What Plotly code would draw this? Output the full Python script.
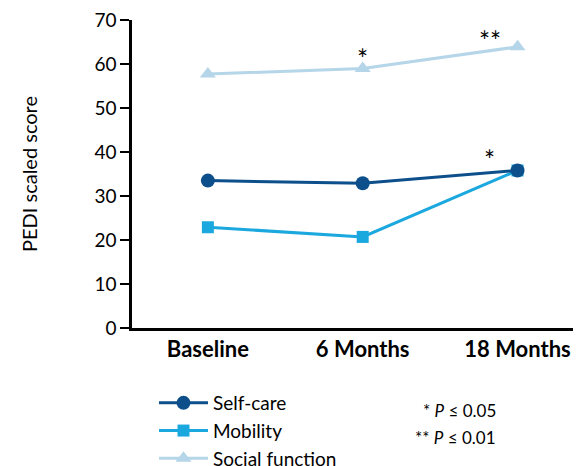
import plotly.graph_objects as go

categories = ["Baseline", "6 Months", "18 Months"]
self_care = [33.5, 32.9, 35.8]
mobility = [22.9, 20.7, 35.8]
social_function = [57.7, 59.0, 63.9]
y_ticks = [0, 10, 20, 30, 40, 50, 60, 70]

FONT = "Lato"
fig = go.Figure()
x_idx = [0, 1, 2]
fig.add_trace(go.Scatter(x=x_idx, y=social_function, name="Social function", mode="lines+markers",
                         line=dict(color="#b5d5e8", width=3),
                         marker=dict(symbol="triangle-up", size=14, color="#b5d5e8")))
fig.add_trace(go.Scatter(x=x_idx, y=mobility, name="Mobility", mode="lines+markers",
                         line=dict(color="#1ba8de", width=3),
                         marker=dict(symbol="square", size=12, color="#1ba8de")))
fig.add_trace(go.Scatter(x=x_idx, y=self_care, name="Self-care", mode="lines+markers",
                         line=dict(color="#0d4f8b", width=3),
                         marker=dict(symbol="circle", size=14, color="#0d4f8b")))

ann = [
    dict(x=1, y=61.1, text="*"),
    dict(x=1.82, y=65.2, text="**"),
    dict(x=1.82, y=38.2, text="*"),
]
for a in ann:
    fig.add_annotation(x=a["x"], y=a["y"], text=a["text"], showarrow=False,
                       font=dict(size=26, color="black", family=FONT), xref="x", yref="y")

# screen-pixel helpers (plot area spans x 132..581, y 20..328 on screen)
def px(xp):
    return (xp - 132) / 449

def py(yp):
    return (328 - yp) / 308

fig.add_annotation(x=px(498), y=py(410), xref="paper", yref="paper", showarrow=False,
                   text="* <i>P</i> ≤ 0.05", font=dict(size=17, color="black", family=FONT),
                   xanchor="right", yanchor="middle")
fig.add_annotation(x=px(498), y=py(437), xref="paper", yref="paper", showarrow=False,
                   text="** <i>P</i> ≤ 0.01", font=dict(size=17, color="black", family=FONT),
                   xanchor="right", yanchor="middle")

fig.update_layout(
    width=581, height=466,
    margin=dict(l=124, r=8, t=12, b=146, autoexpand=False),
    plot_bgcolor="white", paper_bgcolor="white",
    font=dict(family=FONT, color="black"),
    showlegend=True,
    legend=dict(x=px(154), y=py(384), xanchor="left", yanchor="top",
                traceorder="reversed", font=dict(size=19, family=FONT, color="black"),
                itemwidth=49, tracegroupgap=0, bgcolor="rgba(0,0,0,0)"),
    xaxis=dict(range=[-0.49, 2.41], tickvals=x_idx, ticktext=[f"<b>{c}</b>" for c in categories],
               showline=True, linecolor="black", linewidth=2.5, ticks="", showgrid=False,
               zeroline=False, tickfont=dict(size=22, family=FONT, color="black"), automargin=False),
    yaxis=dict(range=[0, 70], tickvals=y_ticks, showline=True, linecolor="black", linewidth=2.5,
               ticks="outside", ticklen=9, tickwidth=2, tickcolor="black", showgrid=False,
               zeroline=False, tickfont=dict(size=19, family=FONT, color="black"), automargin=False,
               ticklabeloverflow="allow",
               title=dict(text="PEDI scaled score", font=dict(size=20, family=FONT, color="black"),
                          standoff=52)),
)
fig.write_html("out.html")
